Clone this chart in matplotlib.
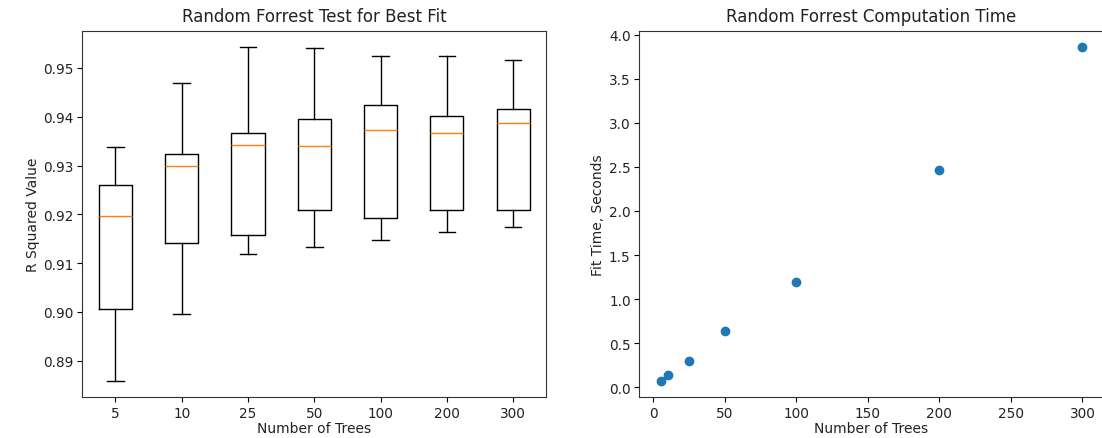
import matplotlib
matplotlib.use("Agg")
import matplotlib.pyplot as plt

# Number of trees tested
tree_labels = ["5", "10", "25", "50", "100", "200", "300"]
tree_counts = [5, 10, 25, 50, 100, 200, 300]

# R squared summary per forest size (cross-validation folds)
r2_whislo = [0.8859, 0.8995, 0.9119, 0.9133, 0.9147, 0.9163, 0.9174]
r2_q1     = [0.9005, 0.9141, 0.9158, 0.9208, 0.9193, 0.9208, 0.9208]
r2_med    = [0.9196, 0.9298, 0.9343, 0.9339, 0.9372, 0.9367, 0.9387]
r2_q3     = [0.9260, 0.9323, 0.9367, 0.9395, 0.9425, 0.9401, 0.9415]
r2_whishi = [0.9337, 0.9470, 0.9542, 0.9540, 0.9525, 0.9525, 0.9517]

# Mean fit time in seconds
fit_seconds = [0.075, 0.136, 0.300, 0.639, 1.190, 2.460, 3.855]

plt.rcParams["text.color"] = "#222222"
plt.rcParams["axes.labelcolor"] = "#222222"
plt.rcParams["xtick.labelcolor"] = "#222222"
plt.rcParams["ytick.labelcolor"] = "#222222"
plt.rcParams["axes.edgecolor"] = "#333333"

fig = plt.figure(figsize=(11.02, 4.39), dpi=100)
ax1 = fig.add_axes([82.3 / 1102, 40.7 / 439, 464 / 1102, 366.5 / 439])
ax2 = fig.add_axes([639.5 / 1102, 40.7 / 439, 464 / 1102, 366.5 / 439])

stats = []
for i, lab in enumerate(tree_labels):
    stats.append({
        "label": lab,
        "whislo": r2_whislo[i],
        "q1": r2_q1[i],
        "med": r2_med[i],
        "q3": r2_q3[i],
        "whishi": r2_whishi[i],
        "fliers": [],
    })
ax1.bxp(stats, showfliers=False)
ax1.set_title("Random Forrest Test for Best Fit", pad=7)
ax1.set_xlabel("Number of Trees", labelpad=1)
ax1.set_ylabel("R Squared Value", labelpad=2)

ax2.scatter(tree_counts, fit_seconds)
ax2.set_title("Random Forrest Computation Time", pad=7)
ax2.set_xlabel("Number of Trees", labelpad=1)
ax2.set_ylabel("Fit Time, Seconds", labelpad=3)

for ax in (ax1, ax2):
    ax.tick_params(labelsize=9.8, pad=2.8)

fig.savefig("out.png", dpi=100)
